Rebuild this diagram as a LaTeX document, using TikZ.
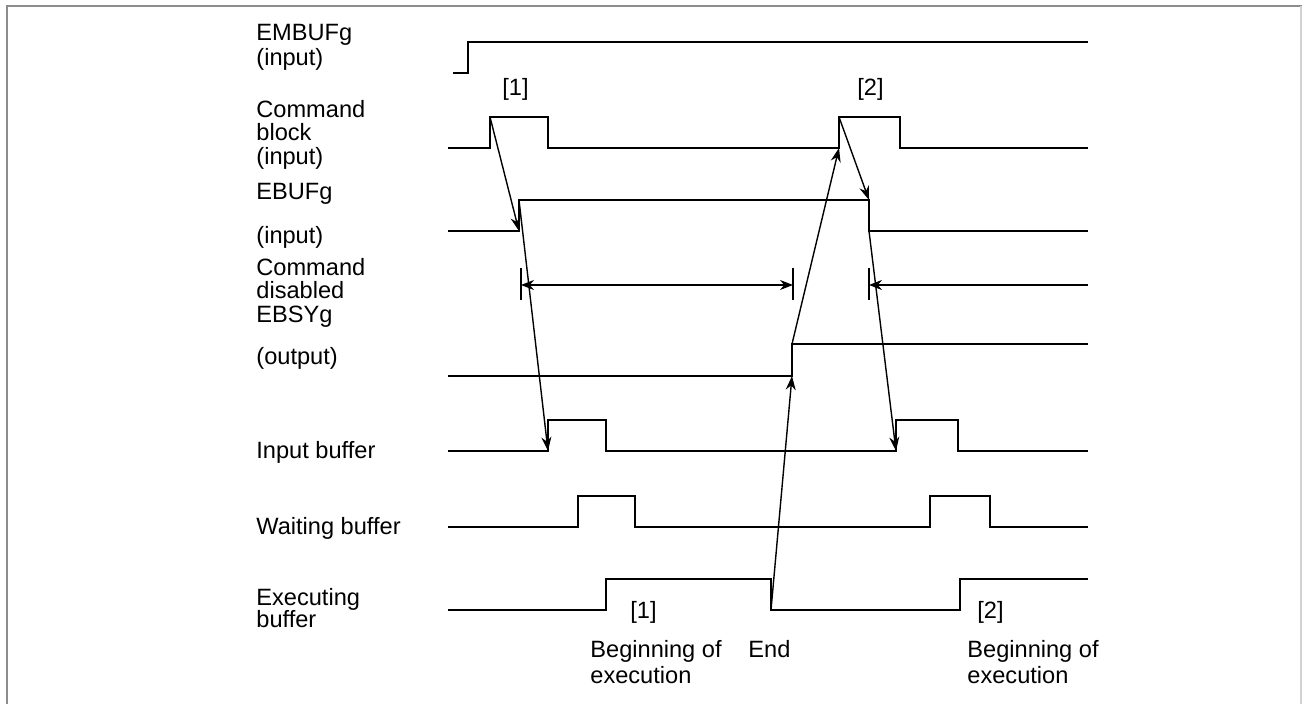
\documentclass[tikz,border=0pt]{standalone}
\usepackage{fontspec}
\setmainfont{Liberation Sans}
\usetikzlibrary{arrows.meta}
\begin{document}
\begin{tikzpicture}[x=0.5pt,y=-0.5pt,
  sig/.style={line width=0.7pt},
  arr/.style={line width=0.7pt,-{Stealth[length=7pt,width=5pt]}},
  dimarr/.style={line width=0.6pt,{Stealth[length=6.5pt,width=5pt]}-{Stealth[length=6.5pt,width=5pt]}},
  tick/.style={line width=0.6pt},
  lbl/.style={anchor=base west,inner sep=0pt,font=\fontsize{11.8pt}{13pt}\selectfont}]
\useasboundingbox (0,0) rectangle (1302,704);
% frame
\draw[gray!90,line width=1pt] (7,704) -- (7,6) -- (1302,6);
\draw[gray!35,line width=0.8pt] (1301,6) -- (1301,704);

% key points
\coordinate (cbA) at (490,117);
\coordinate (cbAlow) at (490,148);
\coordinate (cbB) at (839,117);
\coordinate (cbBlow) at (839,148);
\coordinate (ebA) at (519,200);
\coordinate (ebAlow) at (519,231);
\coordinate (ebB) at (869,200);
\coordinate (ebBlow) at (869,231);
\coordinate (syR) at (792,344);
\coordinate (syRlow) at (792,376);
\coordinate (ibA) at (548,451);
\coordinate (ibB) at (896,451);
\coordinate (exF) at (771,610);

% signals
\draw[sig] (453,73) -- (468,73) -- (468,42) -- (1088,42);
\draw[sig] (448,148) -- (cbAlow) -- (cbA) -- (548,117) -- (548,148) -- (cbBlow) -- (cbB) -- (900,117) -- (900,148) -- (1088,148);
\draw[sig] (448,231) -- (ebAlow) -- (ebA) -- (ebB) -- (ebBlow) -- (1088,231);
\draw[sig] (448,376) -- (syRlow) -- (syR) -- (1088,344);
\draw[sig] (448,451) -- (ibA) -- (548,420) -- (606,420) -- (606,451) -- (ibB) -- (896,420) -- (958,420) -- (958,451) -- (1088,451);
\draw[sig] (448,527) -- (578,527) -- (578,496) -- (635,496) -- (635,527) -- (930,527) -- (930,496) -- (990,496) -- (990,527) -- (1088,527);
\draw[sig] (448,610) -- (606,610) -- (606,579) -- (771,579) -- (exF) -- (960,610) -- (960,579) -- (1088,579);

% causal arrows
\draw[arr] (cbA) -- (ebAlow);
\draw[arr] (ebA) -- (ibA);
\draw[arr] (exF) -- (syRlow);
\draw[arr] (syR) -- (cbBlow);
\draw[arr] (cbB) -- (ebB);
\draw[arr] (ebBlow) -- (ibB);

% command disabled
\coordinate (d1) at (521,285);
\coordinate (d2) at (793,285);
\coordinate (d3) at (869,285);
\coordinate (d4) at (1088,285);
\draw[tick] (521,268) -- (521,300);
\draw[tick] (793,268) -- (793,300);
\draw[tick] (869,268) -- (869,300);
\draw[dimarr] (d1) -- (d2);
\draw[line width=0.6pt,-{Stealth[length=6.5pt,width=5pt]}] (d4) -- (d3);

% labels
\node[lbl] (l1) at (256,41) {EMBUFg};
\node[lbl] (l2) at (256,66) {(input)};
\node[lbl] (l3) at (256,118) {Command};
\node[lbl] (l4) at (256,141) {block};
\node[lbl] (l5) at (256,165) {(input)};
\node[lbl] (l6) at (256,200) {EBUFg};
\node[lbl] (l7) at (256,244) {(input)};
\node[lbl] (l8) at (256,276) {Command};
\node[lbl] (l9) at (256,299) {disabled};
\node[lbl] (l10) at (256,323) {EBSYg};
\node[lbl] (l11) at (256,365) {(output)};
\node[lbl] (l12) at (256,459) {Input buffer};
\node[lbl] (l13) at (256,535) {Waiting buffer};
\node[lbl] (l14) at (256,606) {Executing};
\node[lbl] (l15) at (256,628) {buffer};

\node[lbl] (t1) at (502,96) {[1]};
\node[lbl] (t2) at (857,96) {[2]};
\node[lbl] (b1) at (630,619) {[1]};
\node[lbl] (b2) at (977,619) {[2]};
\node[lbl] (b3) at (590,658) {Beginning of};
\node[lbl] (b4) at (590,684) {execution};
\node[lbl] (b5) at (748,658) {End};
\node[lbl] (b6) at (967,658) {Beginning of};
\node[lbl] (b7) at (967,684) {execution};
\end{tikzpicture}
\end{document}
